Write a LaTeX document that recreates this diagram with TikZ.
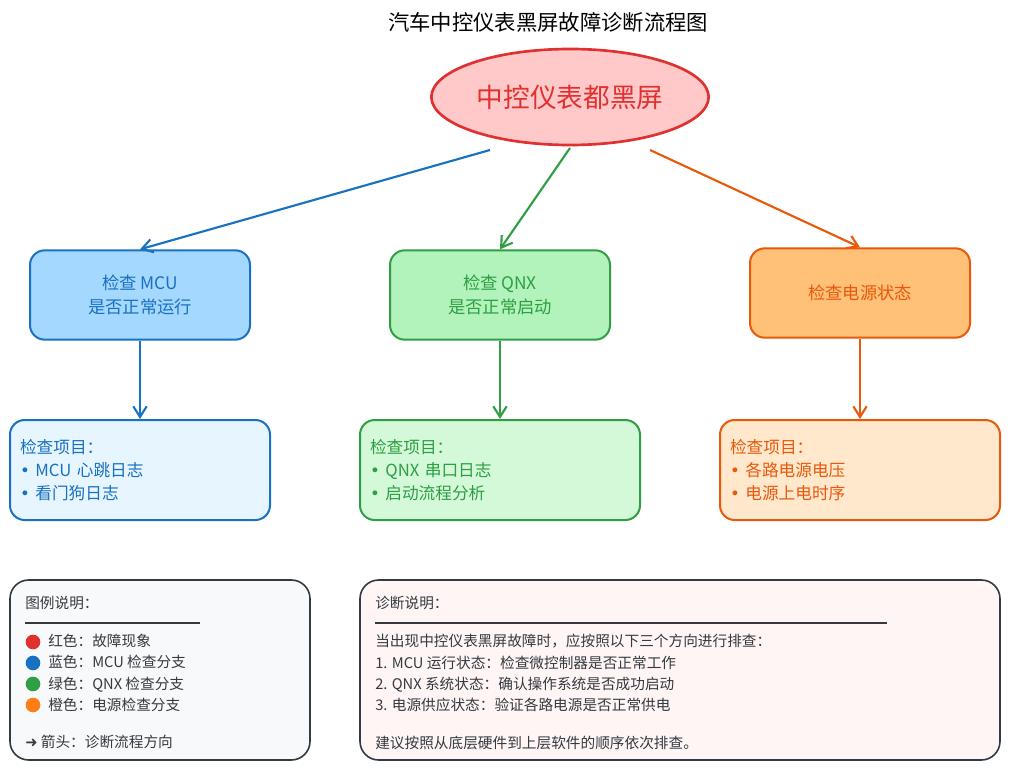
\documentclass[tikz,border=0pt]{standalone}
\usepackage{fontspec}
\setmainfont{Noto Sans CJK SC}
\newfontfamily\djv{DejaVu Sans}
\usetikzlibrary{arrows.meta,shapes.geometric}
\definecolor{cred}{HTML}{E03131}\definecolor{fred}{HTML}{FFC9C9}
\definecolor{cblue}{HTML}{1971C2}\definecolor{fblue}{HTML}{A5D8FF}\definecolor{lblue}{HTML}{E7F5FF}
\definecolor{cgreen}{HTML}{2F9E44}\definecolor{fgreen}{HTML}{B2F2BB}\definecolor{lgreen}{HTML}{D3F9D8}
\definecolor{corange}{HTML}{E8590C}\definecolor{forange}{HTML}{FFC078}\definecolor{lorange}{HTML}{FFE8CC}
\definecolor{cdark}{HTML}{343A40}\definecolor{fgray}{HTML}{F8F9FA}\definecolor{fpink}{HTML}{FFF5F5}
\definecolor{cyellow}{HTML}{FD7E14}
\newcommand{\bul}{{\djv •}}
\begin{document}
\begin{tikzpicture}[x=0.75pt,y=-0.75pt,
 box/.style={draw,line width=1.5pt,rounded corners=11pt,minimum width=165pt,minimum height=67pt,align=center,font=\fontsize{13}{18}\selectfont},
 det/.style={draw,line width=1.5pt,rounded corners=11pt,minimum height=75pt,align=left,font=\fontsize{12.5}{17.5}\selectfont,inner xsep=7pt},
 arr/.style={line width=1.6pt,-{Straight Barb[length=8pt,width=10pt]}},
 note/.style={draw=cdark,line width=1.2pt,rounded corners=14pt,minimum height=135pt},
 txt/.style={anchor=north west,align=left,inner sep=0pt,text=cdark,font=\fontsize{11}{16}\selectfont}]
\useasboundingbox (0,0) rectangle (1010,770);
\node (title) at (548,22) {\fontsize{16}{19}\selectfont 汽车中控仪表黑屏故障诊断流程图};
\node[ellipse,draw=cred,fill=fred,line width=2pt,minimum width=208pt,minimum height=72pt,text=cred,font=\fontsize{20}{23}\selectfont] (root) at (570,97) {中控仪表都黑屏};
\node[box,draw=cblue,fill=fblue,text=cblue] (b1) at (140,295) {检查 MCU\\是否正常运行};
\node[box,draw=cgreen,fill=fgreen,text=cgreen] (b2) at (500,295) {检查 QNX\\是否正常启动};
\node[box,draw=corange,fill=forange,text=corange] (b3) at (860,293) {检查电源状态};
\node[det,draw=cblue,fill=lblue,text=cblue,minimum width=195pt,text width=180pt] (d1) at (140,470) {检查项目：\\\bul\ MCU 心跳日志\\\bul\ 看门狗日志};
\node[det,draw=cgreen,fill=lgreen,text=cgreen,minimum width=210pt,text width=195pt] (d2) at (500,470) {检查项目：\\\bul\ QNX 串口日志\\\bul\ 启动流程分析};
\node[det,draw=corange,fill=lorange,text=corange,minimum width=210pt,text width=195pt] (d3) at (860,470) {检查项目：\\\bul\ 各路电源电压\\\bul\ 电源上电时序};
\coordinate (s1) at (490,150); \coordinate (s2) at (570,148); \coordinate (s3) at (650,150);
\draw[arr,cblue] (s1) -- (b1.north);
\draw[arr,cgreen] (s2) -- (b2.north);
\draw[arr,corange] (s3) -- (b3.north);
\draw[arr,cblue] (b1.south) -- (d1.north);
\draw[arr,cgreen] (b2.south) -- (d2.north);
\draw[arr,corange] (b3.south) -- (d3.north);
\node[note,fill=fgray,minimum width=225pt] (leg) at (160,670) {};
\node[note,fill=fpink,minimum width=480pt] (notes) at (680,670) {};
\node[txt] (legt) at (25,596) {图例说明：};
\draw[cdark,line width=0.8pt] (25,623) -- (200,623);
\node[txt] (legi) at (48,634) {红色：故障现象\\蓝色：MCU 检查分支\\绿色：QNX 检查分支\\橙色：电源检查分支};
\node[txt] (lega) at (25,735) {{\djv ➜} 箭头：诊断流程方向};
\foreach \c/\y [count=\i] in {cred/642,cblue/663,cgreen/684,cyellow/705}
  \fill[\c] (33,\y) circle (5.5pt);
\node[txt] (nt) at (375,596) {诊断说明：};
\draw[cdark,line width=0.8pt] (375,623) -- (887,623);
\node[txt] (nb) at (375,634) {当出现中控仪表黑屏故障时，应按照以下三个方向进行排查：\\1. MCU 运行状态：检查微控制器是否正常工作\\2. QNX 系统状态：确认操作系统是否成功启动\\3. 电源供应状态：验证各路电源是否正常供电};
\node[txt] (nc) at (375,736) {建议按照从底层硬件到上层软件的顺序依次排查。};
\end{tikzpicture}
\end{document}
